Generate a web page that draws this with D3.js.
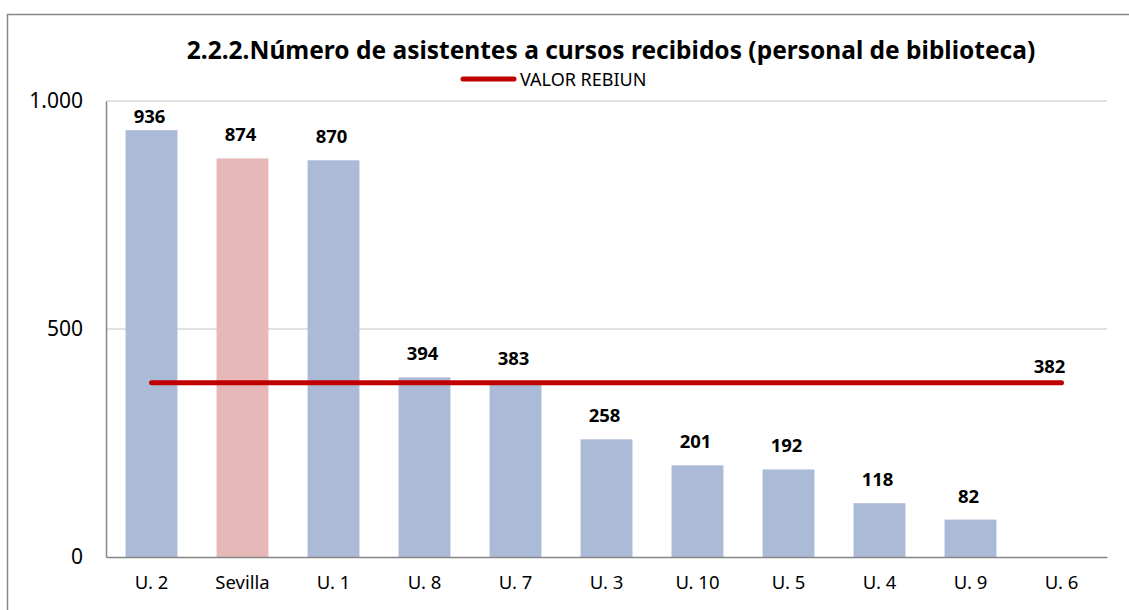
<!DOCTYPE html>
<html>
<head>
<meta charset="utf-8">
<script src="https://cdn.jsdelivr.net/npm/d3@7"></script>
<style>
  body { margin: 0; background: #fff; }
  text { font-family: "Noto Sans", "Open Sans", sans-serif; fill: #000; }
  .title { font-weight: bold; }
  .val { font-weight: bold; }
</style>
</head>
<body>
<div id="chart"></div>
<script>
// data
const categories = ['U. 2', 'Sevilla', 'U. 1', 'U. 8', 'U. 7', 'U. 3', 'U. 10', 'U. 5', 'U. 4', 'U. 9', 'U. 6'];
const values     = [936, 874, 870, 394, 383, 258, 201, 192, 118, 82, null];
const rebiun     = 382;
const highlight  = 'Sevilla';
const yTicks     = [0, 500, 1000];

const width = 1129, height = 610;
const margin = [101, 53, 106, 22]; // top, bottom, left, right (plot area)

const svg = d3.select('#chart').append('svg')
    .attr('width', width)
    .attr('height', height);

// outer frame
svg.append('rect')
    .attr('x', 7.5).attr('y', 14.5)
    .attr('width', width).attr('height', height)
    .attr('fill', 'none')
    .attr('stroke', '#868686')
    .attr('stroke-width', 1.5);

const scaleX = d3.scaleBand(categories, [margin[2], width - margin[3]])
    .paddingInner(0.43)
    .paddingOuter(0.215);
const scaleY = d3.scaleLinear([0, 1000], [height - margin[1], margin[0]]);

// gridlines
svg.append('g')
    .selectAll('line')
    .data(yTicks.filter(d => d > 0))
    .join('line')
    .attr('x1', margin[2]).attr('x2', width - margin[3])
    .attr('y1', d => scaleY(d)).attr('y2', d => scaleY(d))
    .attr('stroke', '#d9d9d9')
    .attr('stroke-width', 1.5);

// bars
svg.append('g')
    .selectAll('rect')
    .data(categories.map((c, i) => [c, values[i]]).filter(d => d[1] != null))
    .join('rect')
    .attr('x', d => scaleX(d[0]))
    .attr('y', d => scaleY(d[1]))
    .attr('width', scaleX.bandwidth())
    .attr('height', d => scaleY(0) - scaleY(d[1]))
    .attr('fill', d => d[0] === highlight ? '#e6b8b7' : '#abbad7');

// axes
const fmt = d3.format(',');
const axisY = svg.append('g')
    .attr('transform', `translate(${margin[2]},0)`)
    .call(d3.axisLeft(scaleY).tickValues(yTicks).tickSize(0).tickPadding(23)
        .tickFormat(d => fmt(d).replace(',', '.')));
axisY.select('.domain').attr('stroke', '#868686').attr('stroke-width', 1.5);
axisY.selectAll('text')
    .style('font-family', '"Noto Sans", sans-serif')
    .style('font-size', '21px')
    .attr('fill', '#000');

const axisX = svg.append('g')
    .attr('transform', `translate(0,${height - margin[1]})`)
    .call(d3.axisBottom(scaleX).tickSize(0).tickPadding(19));
axisX.select('.domain').attr('stroke', '#868686').attr('stroke-width', 1.5);
axisX.selectAll('text')
    .style('font-family', '"Noto Sans", sans-serif')
    .style('font-size', '18.5px')
    .attr('fill', '#000');

// value labels
svg.append('g')
    .selectAll('text')
    .data(categories.map((c, i) => [c, values[i]]).filter(d => d[1] != null))
    .join('text')
    .classed('val', true)
    .attr('x', d => scaleX(d[0]) + scaleX.bandwidth() / 2 - 2)
    .attr('y', d => Math.max(scaleY(d[1]) - 17, margin[0] + 22))
    .attr('text-anchor', 'middle')
    .style('font-size', '18.5px')
    .text(d => d[1]);

// REBIUN line
const xFirst = scaleX(categories[0]) + scaleX.bandwidth() / 2,
      xLast = scaleX(categories[categories.length - 1]) + scaleX.bandwidth() / 2;
svg.append('line')
    .attr('x1', xFirst).attr('x2', xLast)
    .attr('y1', scaleY(rebiun)).attr('y2', scaleY(rebiun))
    .attr('stroke', '#c00000')
    .attr('stroke-width', 5)
    .attr('stroke-linecap', 'round');
svg.append('text')
    .classed('val', true)
    .attr('x', xLast - 12)
    .attr('y', scaleY(rebiun) - 10)
    .attr('text-anchor', 'middle')
    .style('font-size', '18.5px')
    .text(rebiun);

// title
svg.append('text')
    .classed('title', true)
    .attr('x', 611).attr('y', 59)
    .attr('text-anchor', 'middle')
    .style('font-size', '24.5px')
    .text('2.2.2.Número de asistentes a cursos recibidos (personal de biblioteca)');

// legend
const legend = svg.append('g').attr('transform', 'translate(461,79)');
legend.append('line')
    .attr('x1', 2).attr('x2', 53)
    .attr('stroke', '#c00000')
    .attr('stroke-width', 5)
    .attr('stroke-linecap', 'round');
legend.append('text')
    .attr('x', 59).attr('y', 6.5)
    .style('font-size', '18px')
    .text('VALOR REBIUN');
</script>
</body>
</html>
